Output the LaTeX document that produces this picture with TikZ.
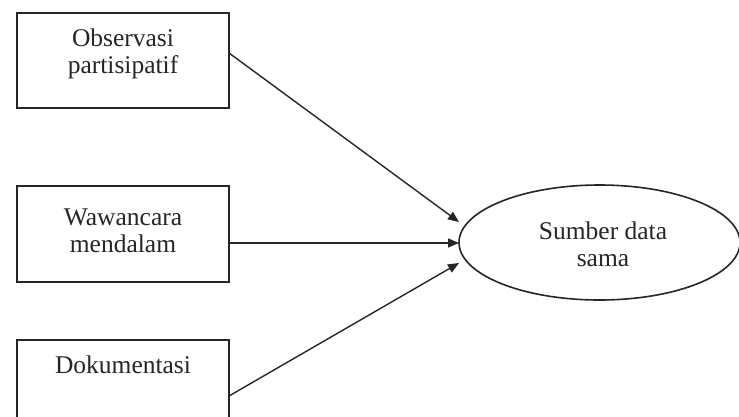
\documentclass[tikz,border=0pt]{standalone}
\usepackage{fontspec}
\setmainfont{Liberation Serif}
\usetikzlibrary{arrows.meta,shapes.geometric}
\begin{document}
\begin{tikzpicture}[x=1pt,y=-1pt,
  box/.style={draw=black!85,line width=1.6pt,rectangle,minimum width=212pt,inner sep=0pt},
  lbl/.style={align=center,font=\fontsize{25.5}{27}\selectfont,text=black!85,inner sep=0pt},
  conn/.style={draw=black!85,line width=1.4pt,-{Triangle[length=11pt,width=9pt]}}]
\useasboundingbox (0,0) rectangle (739,416);
\fill[white] (0,0) rectangle (739,416);
\node[box,minimum height=95pt] (b1) at (123,60.5) {};
\node[box,minimum height=96pt] (b2) at (123,234) {};
\node[box,minimum height=90pt] (b3) at (123,385) {};
\node[draw=black!85,line width=1.6pt,ellipse,minimum width=281pt,minimum height=115pt,inner sep=0pt] (e) at (599.5,242.5) {};
\node[lbl] (t1) at (123,54) {Observasi\\partisipatif};
\node[lbl] (t2) at (123,231) {Wawancara\\mendalam};
\node[lbl] (t3) at (123,365) {Dokumentasi};
\node[lbl] (t4) at (603,244) {Sumber data\\sama};
\coordinate (s1) at (229,53);
\coordinate (s2) at (229,243);
\coordinate (s3) at (229,396);
\coordinate (e1) at (459,222);
\coordinate (e2) at (459,243);
\coordinate (e3) at (459,263);
\draw[conn] (s1) -- (e1);
\draw[conn] (s2) -- (e2);
\draw[conn] (s3) -- (e3);
\end{tikzpicture}
\end{document}
